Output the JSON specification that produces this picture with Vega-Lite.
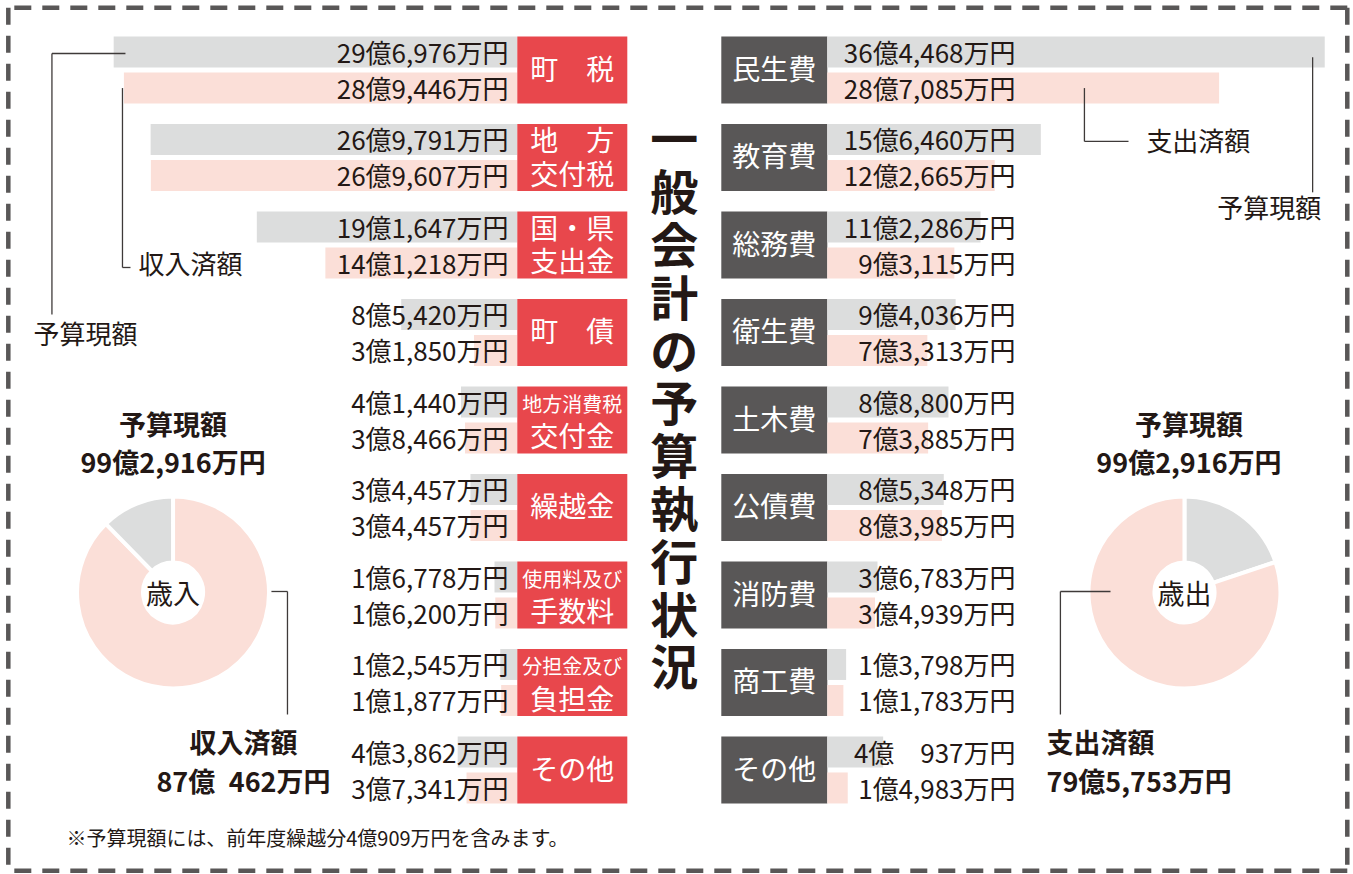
{
  "$schema": "https://vega.github.io/schema/vega-lite/v6.json",
  "background": "#ffffff",
  "padding": {"left": 5.3, "top": 4.7, "right": 2, "bottom": 0},
  "config": {"view": {"stroke": null}, "font": "Noto Sans CJK JP", "text": {"color": "#231815"}},
  "datasets": {
    "one": [{}],
    "rev": [
      {"item": "町税", "kind": "予算現額", "oku": 29.6976, "label": "29億6,976万円"},
      {"item": "町税", "kind": "収入済額", "oku": 28.9446, "label": "28億9,446万円"},
      {"item": "地方交付税", "kind": "予算現額", "oku": 26.9791, "label": "26億9,791万円"},
      {"item": "地方交付税", "kind": "収入済額", "oku": 26.9607, "label": "26億9,607万円"},
      {"item": "国・県支出金", "kind": "予算現額", "oku": 19.1647, "label": "19億1,647万円"},
      {"item": "国・県支出金", "kind": "収入済額", "oku": 14.1218, "label": "14億1,218万円"},
      {"item": "町債", "kind": "予算現額", "oku": 8.5420, "label": "8億5,420万円"},
      {"item": "町債", "kind": "収入済額", "oku": 3.1850, "label": "3億1,850万円"},
      {"item": "地方消費税交付金", "kind": "予算現額", "oku": 4.1440, "label": "4億1,440万円"},
      {"item": "地方消費税交付金", "kind": "収入済額", "oku": 3.8466, "label": "3億8,466万円"},
      {"item": "繰越金", "kind": "予算現額", "oku": 3.4457, "label": "3億4,457万円"},
      {"item": "繰越金", "kind": "収入済額", "oku": 3.4457, "label": "3億4,457万円"},
      {"item": "使用料及び手数料", "kind": "予算現額", "oku": 1.6778, "label": "1億6,778万円"},
      {"item": "使用料及び手数料", "kind": "収入済額", "oku": 1.6200, "label": "1億6,200万円"},
      {"item": "分担金及び負担金", "kind": "予算現額", "oku": 1.2545, "label": "1億2,545万円"},
      {"item": "分担金及び負担金", "kind": "収入済額", "oku": 1.1877, "label": "1億1,877万円"},
      {"item": "その他", "kind": "予算現額", "oku": 4.3862, "label": "4億3,862万円"},
      {"item": "その他", "kind": "収入済額", "oku": 3.7341, "label": "3億7,341万円"}
    ],
    "exp": [
      {"item": "民生費", "kind": "予算現額", "oku": 36.4468, "label": "36億4,468万円"},
      {"item": "民生費", "kind": "支出済額", "oku": 28.7085, "label": "28億7,085万円"},
      {"item": "教育費", "kind": "予算現額", "oku": 15.6460, "label": "15億6,460万円"},
      {"item": "教育費", "kind": "支出済額", "oku": 12.2665, "label": "12億2,665万円"},
      {"item": "総務費", "kind": "予算現額", "oku": 11.2286, "label": "11億2,286万円"},
      {"item": "総務費", "kind": "支出済額", "oku": 9.3115, "label": "9億3,115万円"},
      {"item": "衛生費", "kind": "予算現額", "oku": 9.4036, "label": "9億4,036万円"},
      {"item": "衛生費", "kind": "支出済額", "oku": 7.3313, "label": "7億3,313万円"},
      {"item": "土木費", "kind": "予算現額", "oku": 8.8800, "label": "8億8,800万円"},
      {"item": "土木費", "kind": "支出済額", "oku": 7.3885, "label": "7億3,885万円"},
      {"item": "公債費", "kind": "予算現額", "oku": 8.5348, "label": "8億5,348万円"},
      {"item": "公債費", "kind": "支出済額", "oku": 8.3985, "label": "8億3,985万円"},
      {"item": "消防費", "kind": "予算現額", "oku": 3.6783, "label": "3億6,783万円"},
      {"item": "消防費", "kind": "支出済額", "oku": 3.4939, "label": "3億4,939万円"},
      {"item": "商工費", "kind": "予算現額", "oku": 1.3798, "label": "1億3,798万円"},
      {"item": "商工費", "kind": "支出済額", "oku": 1.1783, "label": "1億1,783万円"},
      {"item": "その他", "kind": "予算現額", "oku": 4.0937, "label": "4億　937万円"},
      {"item": "その他", "kind": "支出済額", "oku": 1.4983, "label": "1億4,983万円"}
    ],
    "revItems": [
      {"item": "町税", "line1": "町　税"},
      {"item": "地方交付税", "line1": "地　方", "line2": "交付税"},
      {"item": "国・県支出金", "line1": "国・県", "line2": "支出金"},
      {"item": "町債", "line1": "町　債"},
      {"item": "地方消費税交付金", "line1": "地方消費税", "line2": "交付金"},
      {"item": "繰越金", "line1": "繰越金"},
      {"item": "使用料及び手数料", "line1": "使用料及び", "line2": "手数料"},
      {"item": "分担金及び負担金", "line1": "分担金及び", "line2": "負担金"},
      {"item": "その他", "line1": "その他"}
    ],
    "expItems": [
      {"item": "民生費"}, {"item": "教育費"}, {"item": "総務費"}, {"item": "衛生費"}, {"item": "土木費"},
      {"item": "公債費"}, {"item": "消防費"}, {"item": "商工費"}, {"item": "その他"}
    ],
    "revPie": [
      {"part": "収入済額", "oku": 87.0462},
      {"part": "未収入額", "oku": 12.2454}
    ],
    "expPie": [
      {"part": "未執行額", "oku": 19.7163},
      {"part": "支出済額", "oku": 79.5753}
    ]
  },
  "spacing": 0,
  "bounds": "flush",
  "vconcat": [
    {
      "spacing": 0,
      "bounds": "flush",
      "resolve": {"scale": {"color": "independent", "yOffset": "independent", "theta": "independent"}},
      "hconcat": [
        {
          "width": 509, "height": 862,
          "layer": [
            {
              "data": {"name": "rev"},
              "mark": {"type": "bar"},
              "encoding": {
                "y": {"field": "item", "type": "nominal", "axis": null,
                  "scale": {"type": "band", "domain": ["町税", "地方交付税", "国・県支出金", "町債", "地方消費税交付金", "繰越金", "使用料及び手数料", "分担金及び負担金", "その他"], "paddingInner": 0.2343, "paddingOuter": 0.5429, "align": 0.303}},
                "yOffset": {"field": "kind", "type": "nominal", "scale": {"domain": ["予算現額", "収入済額"], "paddingInner": 0.139, "paddingOuter": 0}},
                "x": {"field": "oku", "type": "quantitative", "axis": null, "scale": {"domain": [0, 37.45], "reverse": true, "nice": false, "zero": true}},
                "color": {"field": "kind", "type": "nominal", "legend": null, "scale": {"domain": ["予算現額", "収入済額", "未収入額"], "range": ["#dcdddd", "#fbdfd8", "#dcdddd"]}}
              }
            },
            {
              "data": {"name": "rev"},
              "mark": {"type": "text", "align": "right", "baseline": "middle", "fontSize": 26, "dy": 3},
              "encoding": {
                "y": {"field": "item", "type": "nominal"},
                "yOffset": {"field": "kind", "type": "nominal"},
                "x": {"datum": 0.65},
                "text": {"field": "label"}
              }
            },
            {
              "data": {"name": "revPie"},
              "mark": {"type": "arc", "outerRadius": 96, "innerRadius": 30, "stroke": "#ffffff", "strokeWidth": 4},
              "encoding": {
                "theta": {"field": "oku", "type": "quantitative", "stack": true},
                "order": {"field": "part", "type": "nominal", "sort": "ascending"},
                "color": {"field": "part", "type": "nominal"},
                "x": {"datum": 25.33},
                "y": {"datum": "使用料及び手数料", "bandPosition": 0.463}
              }
            },
            {
              "data": {"name": "one"},
              "mark": {"type": "text", "text": "歳入", "fontSize": 27, "align": "center", "baseline": "middle", "dy": 4},
              "encoding": {"x": {"datum": 25.33}, "y": {"datum": "使用料及び手数料", "bandPosition": 0.463}}
            },
            {
              "data": {"name": "one"},
              "mark": {"type": "text", "text": ["予算現額", "99億2,916万円"], "fontSize": 27, "fontWeight": "bold", "lineHeight": 38, "align": "center", "baseline": "middle"},
              "encoding": {"x": {"datum": 25.33}, "y": {"datum": "地方消費税交付金", "bandPosition": 0.61}}
            },
            {
              "data": {"name": "one"},
              "mark": {"type": "text", "text": ["収入済額", "87億\u2002462万円"], "fontSize": 27, "fontWeight": "bold", "lineHeight": 39, "align": "center", "baseline": "middle"},
              "encoding": {"x": {"datum": 20.15}, "y": {"datum": "その他", "bandPosition": 0.13}}
            },
            {
              "data": {"name": "one"},
              "mark": {"type": "rule", "color": "#3e3a39", "strokeWidth": 1.3},
              "encoding": {"x": {"datum": 34.24}, "x2": {"datum": 28.83}, "y": {"datum": "町税", "bandPosition": 0.254}}
            },
            {
              "data": {"name": "one"},
              "mark": {"type": "rule", "color": "#3e3a39", "strokeWidth": 1.3},
              "encoding": {"x": {"datum": 34.24}, "y": {"datum": "町税", "bandPosition": 0.254}, "y2": {"datum": "町債", "bandPosition": 0.23}}
            },
            {
              "data": {"name": "one"},
              "mark": {"type": "rule", "color": "#3e3a39", "strokeWidth": 1.3},
              "encoding": {"x": {"datum": 29.05}, "y": {"datum": "町税", "bandPosition": 0.77}, "y2": {"datum": "国・県支出金", "bandPosition": 0.836}}
            },
            {
              "data": {"name": "one"},
              "mark": {"type": "rule", "color": "#3e3a39", "strokeWidth": 1.3},
              "encoding": {"x": {"datum": 29.05}, "x2": {"datum": 28.46}, "y": {"datum": "国・県支出金", "bandPosition": 0.836}}
            },
            {
              "data": {"name": "one"},
              "mark": {"type": "text", "text": "予算現額", "fontSize": 26, "align": "left", "baseline": "middle", "dy": 2},
              "encoding": {"x": {"datum": 35.6}, "y": {"datum": "町債", "bandPosition": 0.53}}
            },
            {
              "data": {"name": "one"},
              "mark": {"type": "text", "text": "収入済額", "fontSize": 26, "align": "left", "baseline": "middle", "dy": 2},
              "encoding": {"x": {"datum": 27.87}, "y": {"datum": "国・県支出金", "bandPosition": 0.79}}
            },
            {
              "data": {"name": "one"},
              "mark": {"type": "rule", "color": "#3e3a39", "strokeWidth": 1.3},
              "encoding": {"x": {"datum": 18.09}, "x2": {"datum": 16.91}, "y": {"datum": "使用料及び手数料", "bandPosition": 0.448}}
            },
            {
              "data": {"name": "one"},
              "mark": {"type": "rule", "color": "#3e3a39", "strokeWidth": 1.3},
              "encoding": {"x": {"datum": 16.91}, "y": {"datum": "使用料及び手数料", "bandPosition": 0.448}, "y2": {"datum": "分担金及び負担金", "bandPosition": 0.978}}
            },
            {
              "data": {"name": "one"},
              "mark": {"type": "text", "text": "※予算現額には、前年度繰越分4億909万円を含みます。", "fontSize": 20, "align": "left", "baseline": "middle"},
              "encoding": {"x": {"datum": 33.17}, "y": {"datum": "その他", "bandPosition": 1.54}}
            }
          ]
        },
        {
          "width": 110, "height": 862,
          "data": {"name": "revItems"},
          "layer": [
            {
              "mark": {"type": "bar", "color": "#e8474c"},
              "encoding": {
                "y": {"field": "item", "type": "nominal", "axis": null,
                  "scale": {"type": "band", "domain": ["町税", "地方交付税", "国・県支出金", "町債", "地方消費税交付金", "繰越金", "使用料及び手数料", "分担金及び負担金", "その他"], "paddingInner": 0.2343, "paddingOuter": 0.5429, "align": 0.303}}
              }
            },
            {
              "transform": [{"filter": "!isValid(datum.line2)"}],
              "mark": {"type": "text", "color": "#ffffff", "fontSize": 28, "align": "center", "baseline": "middle", "dy": 2},
              "encoding": {"y": {"field": "item", "type": "nominal"}, "text": {"field": "line1"}}
            },
            {
              "transform": [{"filter": "isValid(datum.line2)"}],
              "mark": {"type": "text", "color": "#ffffff", "align": "center", "baseline": "middle", "dy": 2},
              "encoding": {
                "y": {"field": "item", "type": "nominal", "bandPosition": 0.26},
                "text": {"field": "line1"},
                "size": {"condition": {"test": "length(datum.line1) > 3", "value": 20}, "value": 28}
              }
            },
            {
              "transform": [{"filter": "isValid(datum.line2)"}],
              "mark": {"type": "text", "color": "#ffffff", "fontSize": 28, "align": "center", "baseline": "middle", "dy": 2},
              "encoding": {"y": {"field": "item", "type": "nominal", "bandPosition": 0.76}, "text": {"field": "line2"}}
            }
          ]
        },
        {
          "width": 94, "height": 862,
          "data": {"name": "one"},
          "mark": {"type": "text", "text": ["一", "般", "会", "計", "の", "予", "算", "執", "行", "状", "況"], "fontSize": 48, "fontWeight": "bold", "lineHeight": 52.8, "align": "center", "baseline": "middle"},
          "encoding": {
            "y": {"datum": "地方交付税", "type": "nominal", "bandPosition": 0.29, "axis": null,
              "scale": {"type": "band", "domain": ["町税", "地方交付税", "国・県支出金", "町債", "地方消費税交付金", "繰越金", "使用料及び手数料", "分担金及び負担金", "その他"], "paddingInner": 0.2343, "paddingOuter": 0.5429, "align": 0.303}}
          }
        },
        {
          "width": 106, "height": 862,
          "data": {"name": "expItems"},
          "layer": [
            {
              "mark": {"type": "bar", "color": "#595757"},
              "encoding": {
                "y": {"field": "item", "type": "nominal", "axis": null,
                  "scale": {"type": "band", "domain": ["民生費", "教育費", "総務費", "衛生費", "土木費", "公債費", "消防費", "商工費", "その他"], "paddingInner": 0.2343, "paddingOuter": 0.5429, "align": 0.303}}
              }
            },
            {
              "mark": {"type": "text", "color": "#ffffff", "fontSize": 28, "align": "center", "baseline": "middle", "dy": 2},
              "encoding": {"y": {"field": "item", "type": "nominal"}, "text": {"field": "item"}}
            }
          ]
        },
        {
          "width": 520, "height": 862,
          "layer": [
            {
              "data": {"name": "exp"},
              "mark": {"type": "bar"},
              "encoding": {
                "y": {"field": "item", "type": "nominal", "axis": null,
                  "scale": {"type": "band", "domain": ["民生費", "教育費", "総務費", "衛生費", "土木費", "公債費", "消防費", "商工費", "その他"], "paddingInner": 0.2343, "paddingOuter": 0.5429, "align": 0.303}},
                "yOffset": {"field": "kind", "type": "nominal", "scale": {"domain": ["予算現額", "支出済額"], "paddingInner": 0.139, "paddingOuter": 0}},
                "x": {"field": "oku", "type": "quantitative", "axis": null, "scale": {"domain": [0, 38.1], "nice": false, "zero": true}},
                "color": {"field": "kind", "type": "nominal", "legend": null, "scale": {"domain": ["予算現額", "支出済額", "未執行額"], "range": ["#dcdddd", "#fbdfd8", "#dcdddd"]}}
              }
            },
            {
              "data": {"name": "exp"},
              "mark": {"type": "text", "align": "right", "baseline": "middle", "fontSize": 26, "dy": 3},
              "encoding": {
                "y": {"field": "item", "type": "nominal"},
                "yOffset": {"field": "kind", "type": "nominal"},
                "x": {"datum": 13.79},
                "text": {"field": "label"}
              }
            },
            {
              "data": {"name": "expPie"},
              "mark": {"type": "arc", "outerRadius": 96, "innerRadius": 30, "stroke": "#ffffff", "strokeWidth": 4},
              "encoding": {
                "theta": {"field": "oku", "type": "quantitative", "stack": true},
                "order": {"field": "part", "type": "nominal", "sort": "descending"},
                "color": {"field": "part", "type": "nominal"},
                "x": {"datum": 26.17},
                "y": {"datum": "消防費", "bandPosition": 0.463}
              }
            },
            {
              "data": {"name": "one"},
              "mark": {"type": "text", "text": "歳出", "fontSize": 27, "align": "center", "baseline": "middle", "dy": 4},
              "encoding": {"x": {"datum": 26.17}, "y": {"datum": "消防費", "bandPosition": 0.463}}
            },
            {
              "data": {"name": "one"},
              "mark": {"type": "text", "text": ["予算現額", "99億2,916万円"], "fontSize": 27, "fontWeight": "bold", "lineHeight": 38, "align": "center", "baseline": "middle"},
              "encoding": {"x": {"datum": 26.5}, "y": {"datum": "土木費", "bandPosition": 0.61}}
            },
            {
              "data": {"name": "one"},
              "mark": {"type": "text", "text": ["支出済額", "79億5,753万円"], "fontSize": 27, "fontWeight": "bold", "lineHeight": 39, "align": "left", "baseline": "middle"},
              "encoding": {"x": {"datum": 16.06}, "y": {"datum": "その他", "bandPosition": 0.13}}
            },
            {
              "data": {"name": "one"},
              "mark": {"type": "rule", "color": "#3e3a39", "strokeWidth": 1.3},
              "encoding": {"x": {"datum": 18.84}, "y": {"datum": "民生費", "bandPosition": 0.77}, "y2": {"datum": "教育費", "bandPosition": 0.26}}
            },
            {
              "data": {"name": "one"},
              "mark": {"type": "rule", "color": "#3e3a39", "strokeWidth": 1.3},
              "encoding": {"x": {"datum": 18.84}, "x2": {"datum": 22.07}, "y": {"datum": "教育費", "bandPosition": 0.26}}
            },
            {
              "data": {"name": "one"},
              "mark": {"type": "text", "text": "支出済額", "fontSize": 26, "align": "left", "baseline": "middle", "dy": 2},
              "encoding": {"x": {"datum": 23.38}, "y": {"datum": "教育費", "bandPosition": 0.26}}
            },
            {
              "data": {"name": "one"},
              "mark": {"type": "rule", "color": "#3e3a39", "strokeWidth": 1.3},
              "encoding": {"x": {"datum": 35.56}, "y": {"datum": "民生費", "bandPosition": 0.31}, "y2": {"datum": "教育費", "bandPosition": 1.02}}
            },
            {
              "data": {"name": "one"},
              "mark": {"type": "text", "text": "予算現額", "fontSize": 26, "align": "right", "baseline": "middle", "dy": 2},
              "encoding": {"x": {"datum": 36.19}, "y": {"datum": "教育費", "bandPosition": 1.25}}
            },
            {
              "data": {"name": "one"},
              "mark": {"type": "rule", "color": "#3e3a39", "strokeWidth": 1.3},
              "encoding": {"x": {"datum": 20.75}, "x2": {"datum": 17.08}, "y": {"datum": "消防費", "bandPosition": 0.448}}
            },
            {
              "data": {"name": "one"},
              "mark": {"type": "rule", "color": "#3e3a39", "strokeWidth": 1.3},
              "encoding": {"x": {"datum": 17.08}, "y": {"datum": "消防費", "bandPosition": 0.448}, "y2": {"datum": "商工費", "bandPosition": 0.978}}
            }
          ]
        }
      ]
    },
    {
      "width": 1339, "height": 863,
      "data": {"name": "one"},
      "layer": [
        {
          "mark": {"type": "rule", "color": "#595757", "strokeWidth": 4.5, "strokeDash": [17, 11]},
          "encoding": {"y": {"datum": 1, "type": "quantitative", "scale": {"domain": [0, 1]}, "axis": null}}
        },
        {
          "mark": {"type": "rule", "color": "#595757", "strokeWidth": 4.5, "strokeDash": [17, 11]},
          "encoding": {"y": {"datum": 0, "type": "quantitative"}}
        },
        {
          "mark": {"type": "rule", "color": "#595757", "strokeWidth": 4.5, "strokeDash": [17, 11]},
          "encoding": {"x": {"datum": 0, "type": "quantitative", "scale": {"domain": [0, 1]}, "axis": null}}
        },
        {
          "mark": {"type": "rule", "color": "#595757", "strokeWidth": 4.5, "strokeDash": [17, 11]},
          "encoding": {"x": {"datum": 1, "type": "quantitative"}}
        }
      ]
    }
  ]
}
